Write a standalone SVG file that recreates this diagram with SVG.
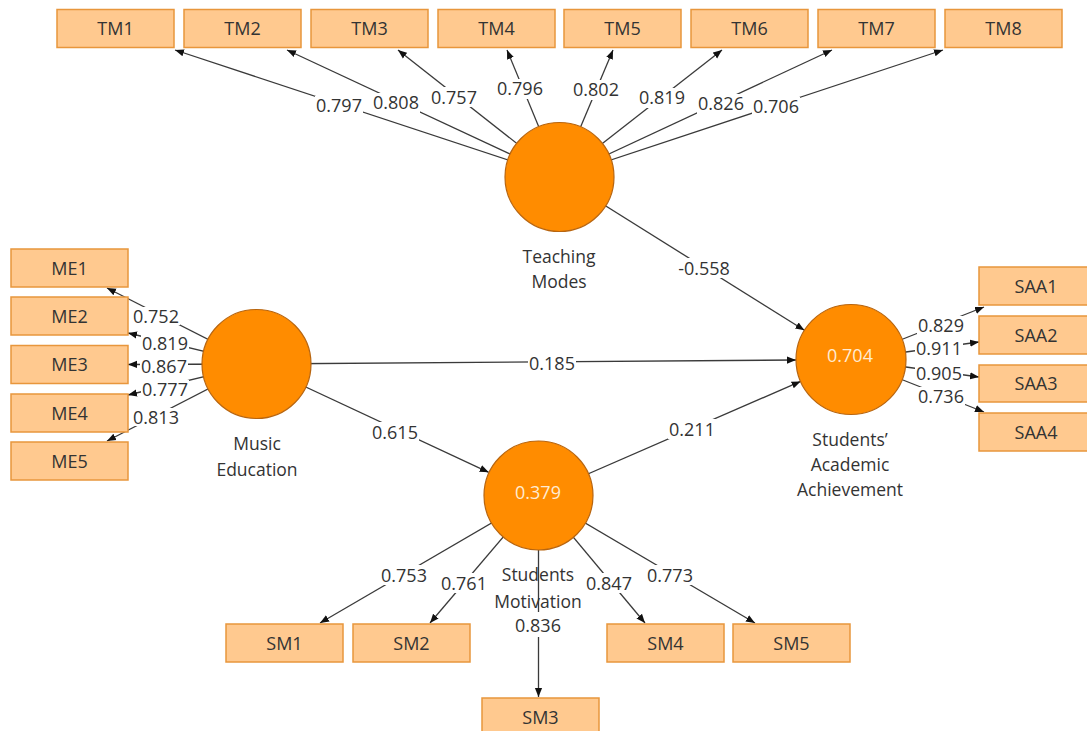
<svg xmlns="http://www.w3.org/2000/svg" width="1087" height="731" viewBox="0 0 1087 731">
<defs>
<marker id="ah" viewBox="0 0 10 10" refX="10" refY="5" markerWidth="9" markerHeight="9" markerUnits="userSpaceOnUse" orient="auto"><path d="M0,1 L10,5 L0,9 z" fill="#111"/></marker>
<style>
.bx{fill:#FFC98F;stroke:#E8963C;stroke-width:1.5}
.lv{fill:#FF8C00;stroke:#B8650F;stroke-width:1.2}
.t{font-family:"Open Sans","Noto Sans","Liberation Sans",sans-serif;font-size:18px;fill:#333;text-anchor:middle}
.n{font-family:"Open Sans","Noto Sans","Liberation Sans",sans-serif;font-size:17.5px;fill:#333;text-anchor:middle}
.v{font-family:"Open Sans","Noto Sans","Liberation Sans",sans-serif;font-size:18px;fill:#FFEBD2;text-anchor:middle}
.ln{stroke:#3a3a3a;stroke-width:1.3;fill:none;marker-end:url(#ah)}
.lb{fill:#fff}
</style>
</defs>
<rect width="1087" height="731" fill="#fff"/>
<g id="connectors">
<path class="ln" d="M559.5,177 L804.4,330.3"/>
<path class="ln" d="M256.5,364 L796,360"/>
<path class="ln" d="M256.5,364 L488.7,472.3"/>
<path class="ln" d="M538.5,495.5 L800.6,381.4"/>
<path class="ln" d="M559.5,177 L175,50"/>
<path class="ln" d="M559.5,177 L287,50"/>
<path class="ln" d="M559.5,177 L398,50"/>
<path class="ln" d="M559.5,177 L507,50"/>
<path class="ln" d="M559.5,177 L613,50"/>
<path class="ln" d="M559.5,177 L722,50"/>
<path class="ln" d="M559.5,177 L832,50"/>
<path class="ln" d="M559.5,177 L943,50"/>
<path class="ln" d="M256.5,364 L107,288"/>
<path class="ln" d="M256.5,364 L128,333"/>
<path class="ln" d="M256.5,364 L128,364.5"/>
<path class="ln" d="M256.5,364 L128,395"/>
<path class="ln" d="M256.5,364 L107,441"/>
<path class="ln" d="M851,359.5 L984,307"/>
<path class="ln" d="M851,359.5 L979,342"/>
<path class="ln" d="M851,359.5 L979,377"/>
<path class="ln" d="M851,359.5 L984,412"/>
<path class="ln" d="M538.5,495.5 L320,623"/>
<path class="ln" d="M538.5,495.5 L430,623"/>
<path class="ln" d="M538.5,495.5 L538.5,697"/>
<path class="ln" d="M538.5,495.5 L645,623"/>
<path class="ln" d="M538.5,495.5 L755,623"/>
<g id="labels">
<rect class="lb" x="677" y="258" width="54" height="20"/><text class="t" x="704" y="274.5">-0.558</text>
<rect class="lb" x="528" y="354" width="48" height="19"/><text class="t" x="552" y="369.5">0.185</text>
<rect class="lb" x="371" y="422" width="48" height="20"/><text class="t" x="395" y="438.5">0.615</text>
<rect class="lb" x="668" y="419" width="48" height="20"/><text class="t" x="692" y="435.5">0.211</text>
<rect class="lb" x="315" y="96" width="48" height="20"/><text class="t" x="339" y="112">0.797</text>
<rect class="lb" x="372" y="93" width="48" height="20"/><text class="t" x="396" y="109">0.808</text>
<rect class="lb" x="430" y="87" width="48" height="20"/><text class="t" x="454" y="103.5">0.757</text>
<rect class="lb" x="496" y="79" width="48" height="20"/><text class="t" x="520" y="95">0.796</text>
<rect class="lb" x="572" y="80" width="48" height="20"/><text class="t" x="596" y="96">0.802</text>
<rect class="lb" x="638" y="88" width="48" height="20"/><text class="t" x="662" y="104">0.819</text>
<rect class="lb" x="697" y="94" width="48" height="20"/><text class="t" x="721" y="110">0.826</text>
<rect class="lb" x="752" y="97" width="48" height="20"/><text class="t" x="776" y="113">0.706</text>
<rect class="lb" x="132" y="307" width="48" height="18"/><text class="t" x="156" y="322.5">0.752</text>
<rect class="lb" x="141" y="334" width="48" height="18"/><text class="t" x="165" y="349.5">0.819</text>
<rect class="lb" x="140" y="357" width="48" height="18"/><text class="t" x="164" y="372.5">0.867</text>
<rect class="lb" x="141" y="380" width="48" height="18"/><text class="t" x="165" y="395.5">0.777</text>
<rect class="lb" x="132" y="408" width="48" height="18"/><text class="t" x="156" y="423.5">0.813</text>
<rect class="lb" x="917" y="316" width="48" height="18"/><text class="t" x="941" y="331.5">0.829</text>
<rect class="lb" x="915" y="339" width="48" height="18"/><text class="t" x="939" y="354.5">0.911</text>
<rect class="lb" x="915" y="364" width="48" height="18"/><text class="t" x="939" y="379.5">0.905</text>
<rect class="lb" x="917" y="387" width="48" height="18"/><text class="t" x="941" y="402.5">0.736</text>
<rect class="lb" x="380" y="565" width="48" height="20"/><text class="t" x="404" y="581.5">0.753</text>
<rect class="lb" x="440" y="573" width="48" height="20"/><text class="t" x="464" y="589.5">0.761</text>
<rect class="lb" x="514" y="612" width="48" height="25"/><text class="t" x="538" y="631.5">0.836</text>
<rect class="lb" x="585" y="573" width="48" height="20"/><text class="t" x="609" y="589.5">0.847</text>
<rect class="lb" x="646" y="565" width="48" height="20"/><text class="t" x="670" y="581.5">0.773</text>
</g>
</g>
<g id="TeachingModes"><circle class="lv" cx="559.5" cy="177" r="54.5"/><text class="n" x="559" y="263">Teaching</text><text class="n" x="559" y="288">Modes</text></g>
<g id="MusicEducation"><circle class="lv" cx="256.5" cy="364" r="54.5"/><text class="n" x="257" y="450">Music</text><text class="n" x="257" y="476">Education</text></g>
<g id="StudentsMotivation"><circle class="lv" cx="538.5" cy="495.5" r="54.5"/><text class="v" x="538" y="498.5">0.379</text><text class="n" x="538" y="581">Students</text><text class="n" x="538" y="608">Motivation</text></g>
<g id="SAA"><circle class="lv" cx="851" cy="359.5" r="55"/><text class="v" x="850" y="361.5">0.704</text><text class="n" x="850" y="446">Students’</text><text class="n" x="850" y="471">Academic</text><text class="n" x="850" y="496">Achievement</text></g>
<g id="TM1"><rect class="bx" x="57" y="9.5" width="117" height="38"/><text class="t" x="115.5" y="35">TM1</text></g>
<g id="TM2"><rect class="bx" x="184" y="9.5" width="117" height="38"/><text class="t" x="242.5" y="35">TM2</text></g>
<g id="TM3"><rect class="bx" x="311" y="9.5" width="117" height="38"/><text class="t" x="369.5" y="35">TM3</text></g>
<g id="TM4"><rect class="bx" x="438" y="9.5" width="117" height="38"/><text class="t" x="496.5" y="35">TM4</text></g>
<g id="TM5"><rect class="bx" x="564" y="9.5" width="117" height="38"/><text class="t" x="622.5" y="35">TM5</text></g>
<g id="TM6"><rect class="bx" x="691" y="9.5" width="117" height="38"/><text class="t" x="749.5" y="35">TM6</text></g>
<g id="TM7"><rect class="bx" x="818" y="9.5" width="117" height="38"/><text class="t" x="876.5" y="35">TM7</text></g>
<g id="TM8"><rect class="bx" x="945" y="9.5" width="117" height="38"/><text class="t" x="1003.5" y="35">TM8</text></g>
<g id="ME1"><rect class="bx" x="11" y="249" width="117" height="38"/><text class="t" x="69.5" y="274.5">ME1</text></g>
<g id="ME2"><rect class="bx" x="11" y="297" width="117" height="38"/><text class="t" x="69.5" y="322.5">ME2</text></g>
<g id="ME3"><rect class="bx" x="11" y="345.5" width="117" height="38"/><text class="t" x="69.5" y="371">ME3</text></g>
<g id="ME4"><rect class="bx" x="11" y="394" width="117" height="38"/><text class="t" x="69.5" y="419.5">ME4</text></g>
<g id="ME5"><rect class="bx" x="11" y="442" width="117" height="38"/><text class="t" x="69.5" y="467.5">ME5</text></g>
<g id="SAA1"><rect class="bx" x="979" y="267" width="117" height="38"/><text class="t" x="1036" y="292.5">SAA1</text></g>
<g id="SAA2"><rect class="bx" x="979" y="316" width="117" height="38"/><text class="t" x="1036" y="341.5">SAA2</text></g>
<g id="SAA3"><rect class="bx" x="979" y="365" width="117" height="37"/><text class="t" x="1036" y="390">SAA3</text></g>
<g id="SAA4"><rect class="bx" x="979" y="413" width="117" height="38"/><text class="t" x="1036" y="438.5">SAA4</text></g>
<g id="SM1"><rect class="bx" x="226" y="624" width="117" height="38"/><text class="t" x="284.5" y="649.5">SM1</text></g>
<g id="SM2"><rect class="bx" x="353" y="624" width="117" height="38"/><text class="t" x="411.5" y="649.5">SM2</text></g>
<g id="SM3"><rect class="bx" x="482" y="698" width="117" height="38"/><text class="t" x="540.5" y="723.5">SM3</text></g>
<g id="SM4"><rect class="bx" x="607" y="624" width="117" height="38"/><text class="t" x="665.5" y="649.5">SM4</text></g>
<g id="SM5"><rect class="bx" x="733" y="624" width="117" height="38"/><text class="t" x="791.5" y="649.5">SM5</text></g>
</svg>
